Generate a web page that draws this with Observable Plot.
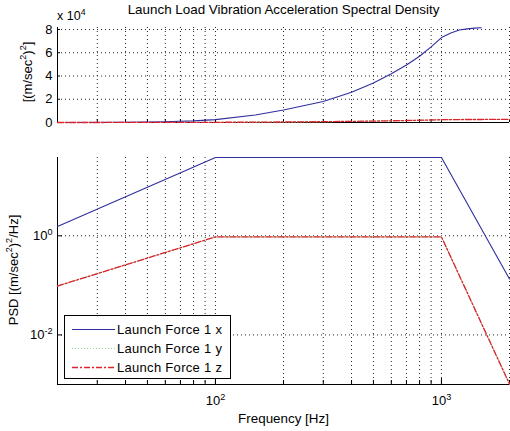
<!DOCTYPE html>
<html>
<head>
<meta charset="utf-8">
<script src="https://cdn.jsdelivr.net/npm/d3@7"></script>
<script src="https://cdn.jsdelivr.net/npm/@observablehq/plot@0.6"></script>
<style>
  html, body { margin: 0; padding: 0; background: #fff; }
  #wrap { position: relative; width: 510px; height: 431px; overflow: hidden; font-family: "Liberation Sans", Arial, sans-serif; color: #000; }
  .abs { position: absolute; white-space: nowrap; }
  #top, #bottom { position: absolute; left: 0; }
  sup { font-size: 0.7em; line-height: 0; }
</style>
</head>
<body>
<div id="wrap">
  <div id="top" style="top:0"></div>
  <div id="bottom" style="top:140px"></div>
  <div class="abs" id="title" style="left:57px;width:453px;text-align:center;top:2px;font-size:13.4px;">Launch Load Vibration Acceleration Spectral Density</div>
  <div class="abs" style="left:57px;top:9px;font-size:12.5px;">x 10<sup>4</sup></div>
  <div class="abs" style="left:27px;top:72px;font-size:13px;transform:translate(-50%,-50%) rotate(-90deg);">[(m/sec<sup>2</sup>)<sup>2</sup>]</div>
  <div class="abs" style="left:13px;top:270px;font-size:13px;transform:translate(-50%,-50%) rotate(-90deg);">PSD [(m/sec<sup>2</sup>)<sup>2</sup>/Hz]</div>
  <div class="abs" style="left:57px;width:453px;text-align:center;top:411px;font-size:13.4px;">Frequency [Hz]</div>
  <div id="legend" class="abs" style="left:64px;top:315px;width:165px;height:62px;border:1px solid #000;background:#fff;font-size:13px;"></div>
</div>
<script>
// ---- data ----
const seriesNames = ["Launch Force 1 x", "Launch Force 1 y", "Launch Force 1 z"];
const seriesColors = ["#2e2ea0", "#8fd88f", "#e0202e"];
const seriesDash = [null, "1,2", "6,2,2,2"];
const seriesWidth = [1.1, 1.1, 1.3];

// cumulative (top panel)
const cumFreqX = [20, 40, 60, 80, 100, 150, 200, 300, 400, 500, 600, 700, 800, 900, 1000, 1100, 1200, 1300, 1400, 1500];
const cumX =     [0, 200, 700, 1400, 2500, 6500, 10800, 18000, 26000, 34000, 42000, 49500, 57000, 65000, 73000, 77000, 79500, 80500, 81200, 81500];
const cumFreqYZ = [20, 60, 100, 200, 300, 500, 700, 1000, 1200, 1500, 2000];
const cumY =      [0, 50, 150, 450, 700, 1200, 1700, 2400, 2550, 2600, 2650];
const cumZ =      [0, 50, 150, 450, 700, 1200, 1700, 2400, 2550, 2600, 2650];

// PSD (bottom panel)
const psdFreq = [20, 100, 1000, 2000];
const psdX = [1.54, 38, 38, 0.135];
const psdY = [0.097, 0.95, 0.95, 0.00102];
const psdZ = [0.097, 0.95, 0.95, 0.00102];

// ticks
const xGridTicks = [30, 40, 50, 60, 70, 80, 90, 100, 200, 300, 400, 500, 600, 700, 800, 900, 1000, 2000];
const xLabelTicks = [100, 1000];
const topYTicks = [0, 20000, 40000, 60000, 80000];
const psdYTicks = [0.01, 1];

// ---- build rows ----
const topRows = [
  ...cumFreqX.map((f, i) => ({f, v: cumX[i], s: seriesNames[0]})),
  ...cumFreqYZ.map((f, i) => ({f, v: cumY[i], s: seriesNames[1]})),
  ...cumFreqYZ.map((f, i) => ({f, v: cumZ[i], s: seriesNames[2]}))
];
const psdRows = [
  ...psdFreq.map((f, i) => ({f, v: psdX[i], s: seriesNames[0]})),
  ...psdFreq.map((f, i) => ({f, v: psdY[i], s: seriesNames[1]})),
  ...psdFreq.map((f, i) => ({f, v: psdZ[i], s: seriesNames[2]}))
];

const font = {fontFamily: "'Liberation Sans', Arial, sans-serif", fontSize: "12px", background: "transparent", overflow: "visible"};
const gridStyle = {stroke: "#000", strokeOpacity: 0.85, strokeDasharray: "1,3"};

function lineMarks(rows) {
  return seriesNames.map((name, i) => Plot.line(rows.filter(r => r.s === name), {
    x: "f", y: "v", stroke: seriesColors[i], strokeWidth: seriesWidth[i],
    strokeDasharray: seriesDash[i] || undefined
  }));
}

const topPlot = Plot.plot({
  width: 510, height: 130,
  marginTop: 27, marginBottom: 8, marginLeft: 57, marginRight: 1,
  style: font,
  x: {type: "log", domain: [20, 2000]},
  y: {domain: [0, 81700]},
  marks: [
    Plot.gridX(xGridTicks, gridStyle),
    Plot.gridY(topYTicks.slice(1), gridStyle),
    Plot.axisY(topYTicks, {tickFormat: d => d / 1e4, tickSize: 0, tickPadding: 5, label: null, fontSize: 13}),
    Plot.tickY(topYTicks, {y: d => d, stroke: "#000", insetRight: 449}),
    Plot.tickX(xGridTicks, {x: d => d, stroke: "#000", insetTop: 92}),
    Plot.axisX([], {label: null}),
    Plot.ruleX([20], {stroke: "#000"}),
    Plot.ruleY([0], {stroke: "#000"}),
    ...lineMarks(topRows)
  ]
});
document.getElementById("top").appendChild(topPlot);

const bottomPlot = Plot.plot({
  width: 510, height: 291,
  marginTop: 17, marginBottom: 47, marginLeft: 57, marginRight: 1,
  style: font,
  x: {type: "log", domain: [20, 2000]},
  y: {type: "log", domain: [0.001, 38]},
  marks: [
    Plot.gridX(xGridTicks, gridStyle),
    Plot.gridY(psdYTicks, gridStyle),
    Plot.axisY(psdYTicks, {tickFormat: d => "10^" + Math.round(Math.log10(d)), tickSize: 0, tickPadding: 5, label: null, fontSize: 13}),
    Plot.axisX(xLabelTicks, {tickFormat: d => "10^" + Math.round(Math.log10(d)), tickSize: 0, tickPadding: 11, label: null, fontSize: 13}),
    Plot.tickY(psdYTicks, {y: d => d, stroke: "#000", insetRight: 447}),
    Plot.tickX(xGridTicks, {x: d => d, stroke: "#000", insetTop: 223}),
    Plot.tickX(xLabelTicks, {x: d => d, stroke: "#000", insetTop: 221}),
    Plot.ruleX([20], {stroke: "#000"}),
    Plot.ruleY([0.001], {stroke: "#000"}),
    ...lineMarks(psdRows)
  ]
});
document.getElementById("bottom").appendChild(bottomPlot);

// superscript tick labels
d3.selectAll("#wrap svg text").each(function() {
  const t = this.textContent;
  if (t.indexOf("10^") === 0) {
    const exp = t.slice(3);
    const sel = d3.select(this);
    sel.text("10");
    sel.append("tspan").attr("dy", "-0.55em").attr("font-size", "0.7em").text(exp);
  }
});

// legend
const leg = d3.select("#legend");
seriesNames.forEach((name, i) => {
  const row = leg.append("div").style("position", "absolute").style("left", "0px").style("top", (4 + i * 19) + "px")
    .style("height", "19px").style("display", "flex").style("align-items", "center");
  const svg = row.append("svg").attr("width", 52).attr("height", 19);
  svg.append("line").attr("x1", 7).attr("x2", 50).attr("y1", 9.5).attr("y2", 9.5)
    .attr("stroke", seriesColors[i]).attr("stroke-width", seriesWidth[i])
    .attr("stroke-dasharray", seriesDash[i] || null);
  row.append("span").text(name).style("letter-spacing", "0.3px");
});
</script>
</body>
</html>
